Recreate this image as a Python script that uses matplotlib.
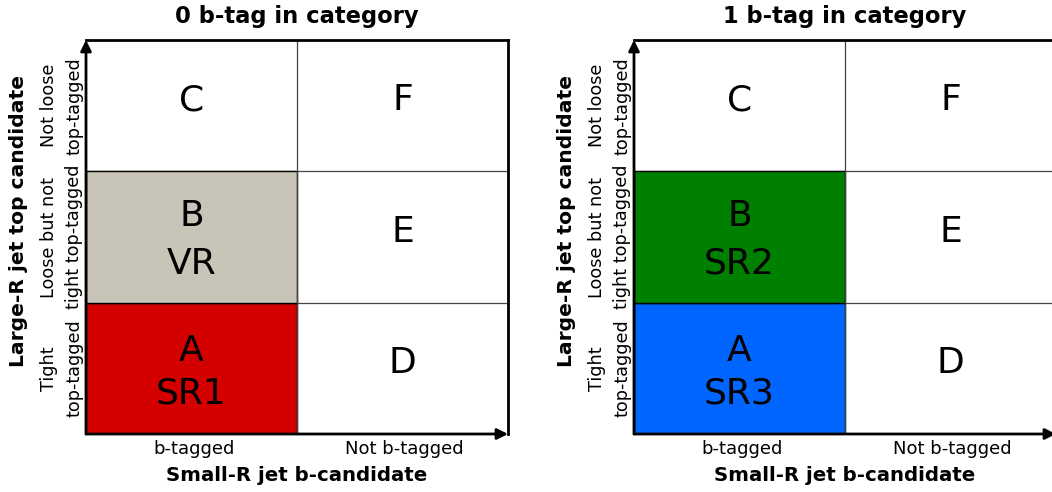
import matplotlib.pyplot as plt
from matplotlib.patches import Rectangle
import matplotlib.transforms as mtransforms

# layout of the ABCD plane: rows bottom -> top, columns left -> right
panel_titles = ['0 b-tag in category', '1 b-tag in category']
col_labels = ['b-tagged', 'Not b-tagged']
row_labels = ['Tight\ntop-tagged', 'Loose but not\ntight top-tagged', 'Not loose\ntop-tagged']
cell_names = [['A', 'D'], ['B', 'E'], ['C', 'F']]
regions = [{'A': 'SR1', 'B': 'VR'}, {'A': 'SR3', 'B': 'SR2'}]
region_colors = [{'A': '#d40000', 'B': '#c8c4b7'}, {'A': '#0066ff', 'B': '#008000'}]
xlabel = 'Small-R jet b-candidate'
ylabel = 'Large-R jet top candidate'

# small per-cell tweaks of the two-line labels (spacing, vertical offset)
spacing = {'A': 1.3, 'B': 1.52}
yoff = {'A': 0.47, 'B': 0.48}

fig = plt.figure(figsize=(10.52, 4.92), dpi=100)
lefts = [86 / 1052, 634 / 1052]


def draw_panel(ax, k):
    ncol, nrow = len(col_labels), len(row_labels)
    ax.set_xlim(0, ncol)
    ax.set_ylim(0, nrow)
    for r in range(nrow):
        for c in range(ncol):
            name = cell_names[r][c]
            if name in regions[k]:
                ax.add_patch(Rectangle((c, r), 1, 1, facecolor=region_colors[k][name],
                                       edgecolor='black', lw=1, zorder=1))
                ax.text(c + 0.5, r + yoff[name], name + '\n' + regions[k][name], ha='center',
                        va='center', fontsize=26, linespacing=spacing[name], zorder=3)
            else:
                ax.text(c + 0.5, r + 0.54, name, ha='center', va='center', fontsize=26, zorder=3)
    for c in range(1, ncol):
        ax.axvline(c, color='#444444', lw=0.9, zorder=2)
    for r in range(1, nrow):
        ax.axhline(r, color='#444444', lw=0.9, zorder=0.5)

    for side in ['left', 'bottom']:
        ax.spines[side].set_visible(False)
    for side in ['top', 'right']:
        ax.spines[side].set_linewidth(2)
    ax.annotate('', xy=(0, nrow), xytext=(0, 0),
                arrowprops=dict(arrowstyle='-|>', color='black', lw=2, mutation_scale=16,
                                shrinkA=0, shrinkB=0), annotation_clip=False, zorder=5)
    ax.annotate('', xy=(ncol, 0), xytext=(0, 0),
                arrowprops=dict(arrowstyle='-|>', color='black', lw=2, mutation_scale=16,
                                shrinkA=0, shrinkB=0), annotation_clip=False, zorder=5)
    ax.set_xticks([])
    ax.set_yticks([])

    tx = mtransforms.blended_transform_factory(ax.transData, ax.transAxes)
    for c, lab in enumerate(col_labels):
        ax.text(c + 0.51, -0.037, lab, transform=tx, ha='center', va='center', fontsize=13)
    ty = mtransforms.blended_transform_factory(ax.transAxes, ax.transData)
    for r, lab in enumerate(row_labels):
        ax.text(-0.058, r + 0.5, lab, transform=ty, rotation=90, ha='center', va='center',
                fontsize=12.7, multialignment='center', linespacing=1.5)

    ax.set_title(panel_titles[k], fontsize=16.3, fontweight='bold', pad=12)
    ax.text(0.5, -0.105, xlabel, transform=ax.transAxes, ha='center', va='center',
            fontsize=14.2, fontweight='bold')
    ax.text(-0.161, 0.54, ylabel, transform=ax.transAxes, ha='center', va='center',
            rotation=90, fontsize=14.6, fontweight='bold')


for k in range(2):
    ax = fig.add_axes([lefts[k], 58 / 492, 422 / 1052, 394 / 492])
    draw_panel(ax, k)

fig.savefig('out.png', dpi=100)
